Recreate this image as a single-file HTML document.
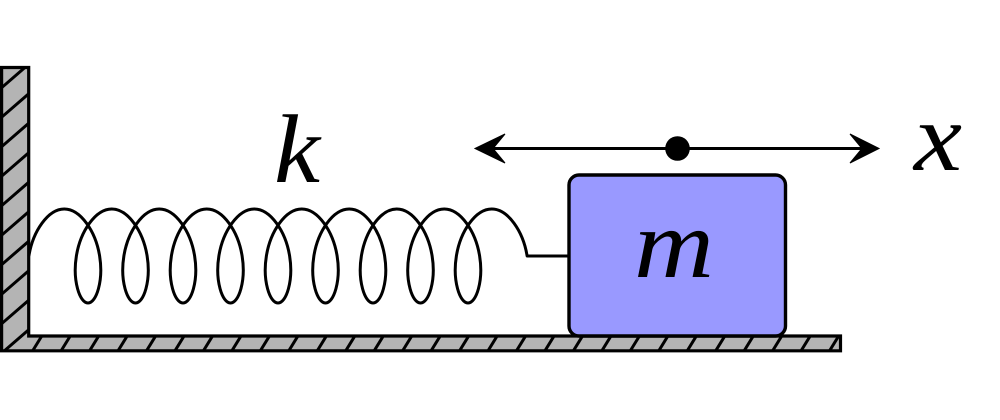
<!DOCTYPE html>
<html>
<head>
<meta charset="utf-8">
<style>
  html, body { margin: 0; padding: 0; background: #ffffff; }
  body { width: 1000px; height: 420px; overflow: hidden; }
  svg { display: block; }
  .lbl { font-family: "Liberation Serif", "DejaVu Serif", serif; font-style: italic; font-size: 98px; fill: #000; }
</style>
</head>
<body>
<svg width="1000" height="420" viewBox="0 0 1000 420" xmlns="http://www.w3.org/2000/svg">
  <defs>
    <clipPath id="groundClip">
      <path d="M1.6,67.5 L28.7,67.5 L28.7,336 L840.5,336 L840.5,350.8 L1.6,350.8 Z"/>
    </clipPath>
  </defs>

  <!-- wall + floor fill -->
  <path d="M1.6,67.5 L28.7,67.5 L28.7,336 L840.5,336 L840.5,350.8 L1.6,350.8 Z" fill="#b4b4b4"/>

  <!-- hatching -->
  <g clip-path="url(#groundClip)" stroke="#000" stroke-width="3" fill="none">
    <!-- wall hatch -->
    <line x1="0" y1="59.6" x2="30" y2="33.6"/>
    <line x1="0" y1="89.1" x2="30" y2="63.1"/>
    <line x1="0" y1="118.6" x2="30" y2="92.6"/>
    <line x1="0" y1="148.1" x2="30" y2="122.1"/>
    <line x1="0" y1="177.6" x2="30" y2="151.6"/>
    <line x1="0" y1="207.1" x2="30" y2="181.1"/>
    <line x1="0" y1="236.6" x2="30" y2="210.6"/>
    <line x1="0" y1="266.1" x2="30" y2="240.1"/>
    <line x1="0" y1="295.6" x2="30" y2="269.6"/>
    <line x1="0" y1="325.1" x2="30" y2="299.1"/>
    <line x1="0" y1="354.6" x2="30" y2="328.6"/>
    <!-- floor hatch -->
    <line x1="31" y1="353.5" x2="43" y2="334"/>
    <line x1="59.46" y1="353.5" x2="71.46" y2="334"/>
    <line x1="87.92" y1="353.5" x2="99.92" y2="334"/>
    <line x1="116.38" y1="353.5" x2="128.38" y2="334"/>
    <line x1="144.84" y1="353.5" x2="156.84" y2="334"/>
    <line x1="173.3" y1="353.5" x2="185.3" y2="334"/>
    <line x1="201.76" y1="353.5" x2="213.76" y2="334"/>
    <line x1="230.22" y1="353.5" x2="242.22" y2="334"/>
    <line x1="258.68" y1="353.5" x2="270.68" y2="334"/>
    <line x1="287.14" y1="353.5" x2="299.14" y2="334"/>
    <line x1="315.6" y1="353.5" x2="327.6" y2="334"/>
    <line x1="344.06" y1="353.5" x2="356.06" y2="334"/>
    <line x1="372.52" y1="353.5" x2="384.52" y2="334"/>
    <line x1="400.98" y1="353.5" x2="412.98" y2="334"/>
    <line x1="429.44" y1="353.5" x2="441.44" y2="334"/>
    <line x1="457.9" y1="353.5" x2="469.9" y2="334"/>
    <line x1="486.36" y1="353.5" x2="498.36" y2="334"/>
    <line x1="514.82" y1="353.5" x2="526.82" y2="334"/>
    <line x1="543.28" y1="353.5" x2="555.28" y2="334"/>
    <line x1="571.74" y1="353.5" x2="583.74" y2="334"/>
    <line x1="600.2" y1="353.5" x2="612.2" y2="334"/>
    <line x1="628.66" y1="353.5" x2="640.66" y2="334"/>
    <line x1="657.12" y1="353.5" x2="669.12" y2="334"/>
    <line x1="685.58" y1="353.5" x2="697.58" y2="334"/>
    <line x1="714.04" y1="353.5" x2="726.04" y2="334"/>
    <line x1="742.5" y1="353.5" x2="754.5" y2="334"/>
    <line x1="770.96" y1="353.5" x2="782.96" y2="334"/>
    <line x1="799.42" y1="353.5" x2="811.42" y2="334"/>
    <line x1="827.88" y1="353.5" x2="839.88" y2="334"/>
  </g>

  <!-- wall + floor outline -->
  <path d="M1.6,67.5 L28.7,67.5 L28.7,336 L840.5,336 L840.5,350.8 L1.6,350.8 Z" fill="none" stroke="#000" stroke-width="3.2" stroke-linejoin="miter"/>

  <!-- spring -->
  <path fill="none" stroke="#000" stroke-width="3" stroke-linejoin="round" stroke-linecap="butt"
    d="M28.875,256
       c 3.955,-24.61 19.115,-47 35.375,-47
       c 16.26,0 31.42,22.39 35.375,47 c 3.955,24.61 -3.275,47 -11.625,47 c -8.35,0 -15.58,-22.39 -11.625,-47 c 3.955,-24.61 19.115,-47 35.375,-47
       c 16.26,0 31.42,22.39 35.375,47 c 3.955,24.61 -3.275,47 -11.625,47 c -8.35,0 -15.58,-22.39 -11.625,-47 c 3.955,-24.61 19.115,-47 35.375,-47
       c 16.26,0 31.42,22.39 35.375,47 c 3.955,24.61 -3.275,47 -11.625,47 c -8.35,0 -15.58,-22.39 -11.625,-47 c 3.955,-24.61 19.115,-47 35.375,-47
       c 16.26,0 31.42,22.39 35.375,47 c 3.955,24.61 -3.275,47 -11.625,47 c -8.35,0 -15.58,-22.39 -11.625,-47 c 3.955,-24.61 19.115,-47 35.375,-47
       c 16.26,0 31.42,22.39 35.375,47 c 3.955,24.61 -3.275,47 -11.625,47 c -8.35,0 -15.58,-22.39 -11.625,-47 c 3.955,-24.61 19.115,-47 35.375,-47
       c 16.26,0 31.42,22.39 35.375,47 c 3.955,24.61 -3.275,47 -11.625,47 c -8.35,0 -15.58,-22.39 -11.625,-47 c 3.955,-24.61 19.115,-47 35.375,-47
       c 16.26,0 31.42,22.39 35.375,47 c 3.955,24.61 -3.275,47 -11.625,47 c -8.35,0 -15.58,-22.39 -11.625,-47 c 3.955,-24.61 19.115,-47 35.375,-47
       c 16.26,0 31.42,22.39 35.375,47 c 3.955,24.61 -3.275,47 -11.625,47 c -8.35,0 -15.58,-22.39 -11.625,-47 c 3.955,-24.61 19.115,-47 35.375,-47
       c 16.26,0 31.42,22.39 35.375,47 c 3.955,24.61 -3.275,47 -11.625,47 c -8.35,0 -15.58,-22.39 -11.625,-47 c 3.955,-24.61 19.115,-47 35.375,-47
       c 16.26,0 31.42,22.39 35.375,47
       L 569,256"/>

  <!-- mass block -->
  <rect x="569" y="175" width="216.5" height="161" rx="10" ry="10" fill="#9999ff" stroke="#000" stroke-width="3.4"/>
  <text class="lbl" x="674" y="277" text-anchor="middle" textLength="80" lengthAdjust="spacingAndGlyphs">m</text>

  <!-- displacement arrow -->
  <line x1="492" y1="148.5" x2="864" y2="148.5" stroke="#000" stroke-width="3"/>
  <path d="M475,148.5 L505,134 L493,148.5 L505,163 Z" fill="#000" stroke="#000" stroke-width="1" stroke-linejoin="miter"/>
  <path d="M879,148.5 L850,134 L862,148.5 L850,163 Z" fill="#000" stroke="#000" stroke-width="1" stroke-linejoin="miter"/>
  <circle cx="677.5" cy="148.5" r="12.3" fill="#000"/>

  <!-- labels -->
  <text class="lbl" x="297" y="182" text-anchor="middle" textLength="46" lengthAdjust="spacingAndGlyphs">k</text>
  <text class="lbl" x="938" y="170" text-anchor="middle" textLength="48" lengthAdjust="spacingAndGlyphs">x</text>
</svg>
</body>
</html>
